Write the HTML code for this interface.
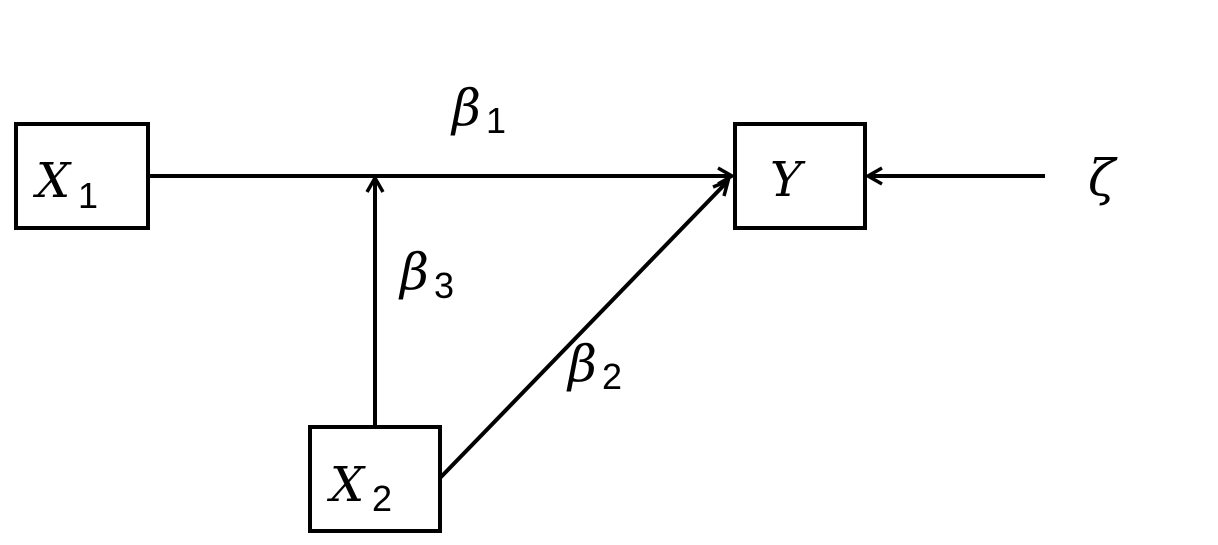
<!DOCTYPE html>
<html><head><meta charset="utf-8"><style>
html,body{margin:0;padding:0;background:#fff;}
svg{display:block;}
text{font-family:"DejaVu Serif","Liberation Serif",serif;font-style:italic;fill:#000;}
.sub{font-style:normal;font-family:"Liberation Sans",sans-serif;}
</style></head><body>
<svg width="1218" height="545" viewBox="0 0 1218 545" xmlns="http://www.w3.org/2000/svg">
<g fill="none" stroke="#000" stroke-width="4">
<rect x="16" y="124" width="132" height="104"/>
<rect x="735" y="124" width="130" height="104"/>
<rect x="310" y="427" width="130" height="104"/>
</g>
<g stroke="#000" stroke-width="4" fill="none">
<line x1="148" y1="176" x2="730" y2="176"/>
<path d="M718,168 L732,176 L718,184" stroke-width="3.5"/>
<line x1="375" y1="427" x2="375" y2="180"/>
<path d="M367,192 L375,178 L383,192" stroke-width="3.5"/>
<line x1="440" y1="478" x2="727" y2="182"/>
<path d="M713,187 L728,181 L724,196" stroke-width="3.5"/>
<line x1="1045" y1="176" x2="870" y2="176"/>
<path d="M882,168 L868,176 L882,184" stroke-width="3.5"/>
</g>
<text x="36" y="197" font-size="48">X</text><text x="78" y="208" font-size="36" class="sub">1</text>
<text x="770" y="196" font-size="48">Y</text>
<text x="330" y="501" font-size="48">X</text><text x="372" y="511" font-size="36" class="sub">2</text>
<text x="452" y="125" font-size="50">β</text><text x="486" y="133" font-size="36" class="sub">1</text>
<text x="400" y="289" font-size="50">β</text><text x="434" y="298" font-size="36" class="sub">3</text>
<text x="568" y="381" font-size="50">β</text><text x="602" y="389" font-size="36" class="sub">2</text>
<text x="1088" y="195" font-size="50">ζ</text>
</svg>
</body></html>
